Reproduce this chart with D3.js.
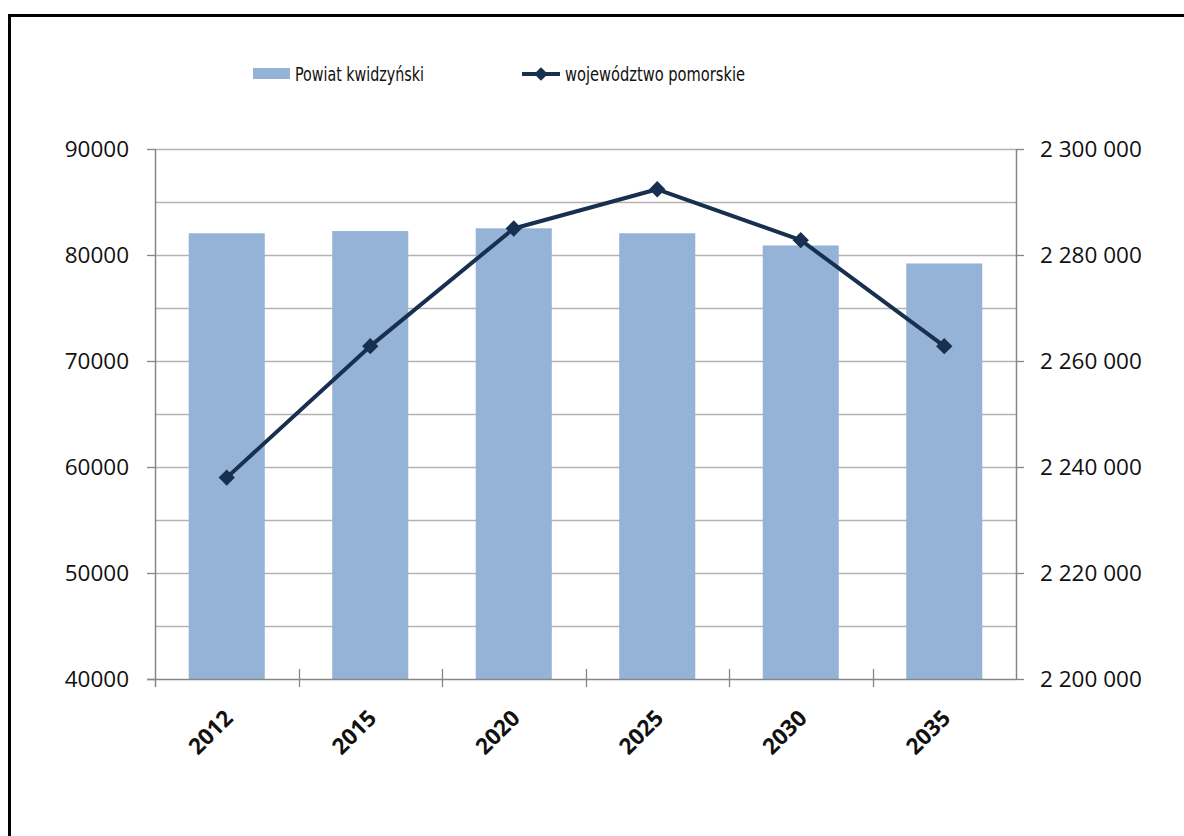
<!DOCTYPE html>
<html>
<head>
<meta charset="utf-8">
<script src="https://cdn.jsdelivr.net/npm/d3@7"></script>
<style>
  html, body { margin: 0; padding: 0; background: #fff; }
  svg text { font-family: "Open Sans", "Noto Sans", sans-serif; }
  .legend text { font-family: "DejaVu Sans Condensed", "DejaVu Sans", sans-serif; }
</style>
</head>
<body>
<svg id="chart" width="1184" height="836"></svg>
<script>
// Data
const years = ["2012", "2015", "2020", "2025", "2030", "2035"];
const powiat = [82050, 82260, 82520, 82050, 80900, 79200];
const pomorskie = [2238000, 2262800, 2285000, 2292400, 2282800, 2262800];
const leftTicks = [40000, 50000, 60000, 70000, 80000, 90000];
const rightTicks = [2200000, 2220000, 2240000, 2260000, 2280000, 2300000];

const svg = d3.select("#chart"),
    margin = { top: 149, right: 168, bottom: 157, left: 155 },
    width = +svg.attr("width") - margin.left - margin.right,
    height = +svg.attr("height") - margin.top - margin.bottom;

const barColor = "#95b3d7",
    lineColor = "#17304f",
    gridColor = "#b3b3b3",
    axisColor = "#868686";

// outer frame (runs off the bottom/right edge)
svg.append("rect")
    .attr("x", 9.5).attr("y", 15.5)
    .attr("width", 1300).attr("height", 1000)
    .attr("fill", "none")
    .attr("stroke", "#000")
    .attr("stroke-width", 3);

const g = svg.append("g")
    .attr("transform", `translate(${margin.left},${margin.top})`);

const x = d3.scaleBand().domain(years).range([0, width]).paddingInner(0.47).paddingOuter(0.235);
const xb = d3.scaleBand().domain(years).range([0, width]); // category slots
const y = d3.scaleLinear().domain([40000, 90000]).range([height, 0]);
const y2 = d3.scaleLinear().domain([2200000, 2300000]).range([height, 0]);

// gridlines every 5000
g.append("g")
    .selectAll("line")
    .data(d3.range(45000, 90001, 5000))
    .join("line")
    .attr("x1", 0).attr("x2", width)
    .attr("y1", d => Math.round(y(d)) + 0.5)
    .attr("y2", d => Math.round(y(d)) + 0.5)
    .attr("stroke", gridColor)
    .attr("stroke-width", 1.3);

// bars
g.selectAll("rect.bar")
    .data(years.map((yr, i) => ({ yr, v: powiat[i] })))
    .join("rect")
    .attr("class", "bar")
    .attr("x", d => x(d.yr))
    .attr("width", x.bandwidth())
    .attr("y", d => y(d.v))
    .attr("height", d => height - y(d.v))
    .attr("fill", barColor);

// left axis
const leftAxis = g.append("g")
    .call(d3.axisLeft(y).tickValues(leftTicks).tickSize(8).tickPadding(18).tickFormat(d3.format("d")));
// right axis, thousands separated by spaces
const fmtSpace = d => d3.format(",")(d).replace(/,/g, " ");
const rightAxis = g.append("g")
    .attr("transform", `translate(${width},0)`)
    .call(d3.axisRight(y2).tickValues(rightTicks).tickSize(8).tickPadding(16).tickFormat(fmtSpace));

[leftAxis, rightAxis].forEach(a => {
    a.select(".domain").attr("stroke", axisColor).attr("stroke-width", 1.5)
        .attr("d", a === leftAxis ? `M0.5,0V${height + 8}` : `M0.5,0V${height}`);
    a.selectAll(".tick line").attr("stroke", axisColor).attr("stroke-width", 1.3);
    a.selectAll(".tick text").attr("fill", "#111").style("font-size", "22.5px")
        .style("white-space", "pre");
});

// bottom axis: ticks at category boundaries, crossing the axis line
const bottom = g.append("g").attr("transform", `translate(0,${height})`);
bottom.append("line")
    .attr("x1", -8).attr("x2", width)
    .attr("y1", 0.5).attr("y2", 0.5)
    .attr("stroke", axisColor).attr("stroke-width", 1.5);
bottom.selectAll("line.tick")
    .data(years.slice(1))
    .join("line")
    .attr("class", "tick")
    .attr("x1", d => Math.round(xb(d)) + 0.5)
    .attr("x2", d => Math.round(xb(d)) + 0.5)
    .attr("y1", -10).attr("y2", 8)
    .attr("stroke", axisColor).attr("stroke-width", 1.3);
bottom.selectAll("text")
    .data(years)
    .join("text")
    .attr("transform", d => `translate(${xb(d) + xb.bandwidth() / 2 + 2},${35}) rotate(-45)`)
    .attr("text-anchor", "end")
    .attr("dy", "0.35em")
    .attr("font-weight", "bold")
    .style("font-size", "22.5px")
    .attr("fill", "#111")
    .text(d => d);

// line series (right axis)
const cx = d => xb(d) + xb.bandwidth() / 2;
const pts = years.map((yr, i) => ({ yr, v: pomorskie[i] }));
g.append("path")
    .datum(pts)
    .attr("fill", "none")
    .attr("stroke", lineColor)
    .attr("stroke-width", 4)
    .attr("stroke-linejoin", "round")
    .attr("d", d3.line().x(d => cx(d.yr)).y(d => y2(d.v)));

const diamond = d3.symbol().type(d3.symbolDiamond2).size(170);
g.selectAll("path.marker")
    .data(pts)
    .join("path")
    .attr("class", "marker")
    .attr("transform", d => `translate(${cx(d.yr)},${y2(d.v)})`)
    .attr("d", diamond)
    .attr("fill", lineColor);

// legend
const legend = svg.append("g").attr("class", "legend");
legend.append("rect")
    .attr("x", 253).attr("y", 68).attr("width", 37).attr("height", 11)
    .attr("fill", barColor);
legend.append("text")
    .attr("x", 295).attr("y", 74).attr("dy", "0.35em")
    .style("font-size", "20px").attr("fill", "#111")
    .attr("textLength", 129).attr("lengthAdjust", "spacingAndGlyphs")
    .text("Powiat kwidzyński");
legend.append("line")
    .attr("x1", 522).attr("x2", 560).attr("y1", 74).attr("y2", 74)
    .attr("stroke", lineColor).attr("stroke-width", 4);
legend.append("path")
    .attr("transform", "translate(541,74)")
    .attr("d", d3.symbol().type(d3.symbolDiamond2).size(120))
    .attr("fill", lineColor);
legend.append("text")
    .attr("x", 565).attr("y", 74).attr("dy", "0.35em")
    .style("font-size", "20px").attr("fill", "#111")
    .attr("textLength", 180).attr("lengthAdjust", "spacingAndGlyphs")
    .text("województwo pomorskie");
</script>
</body>
</html>
